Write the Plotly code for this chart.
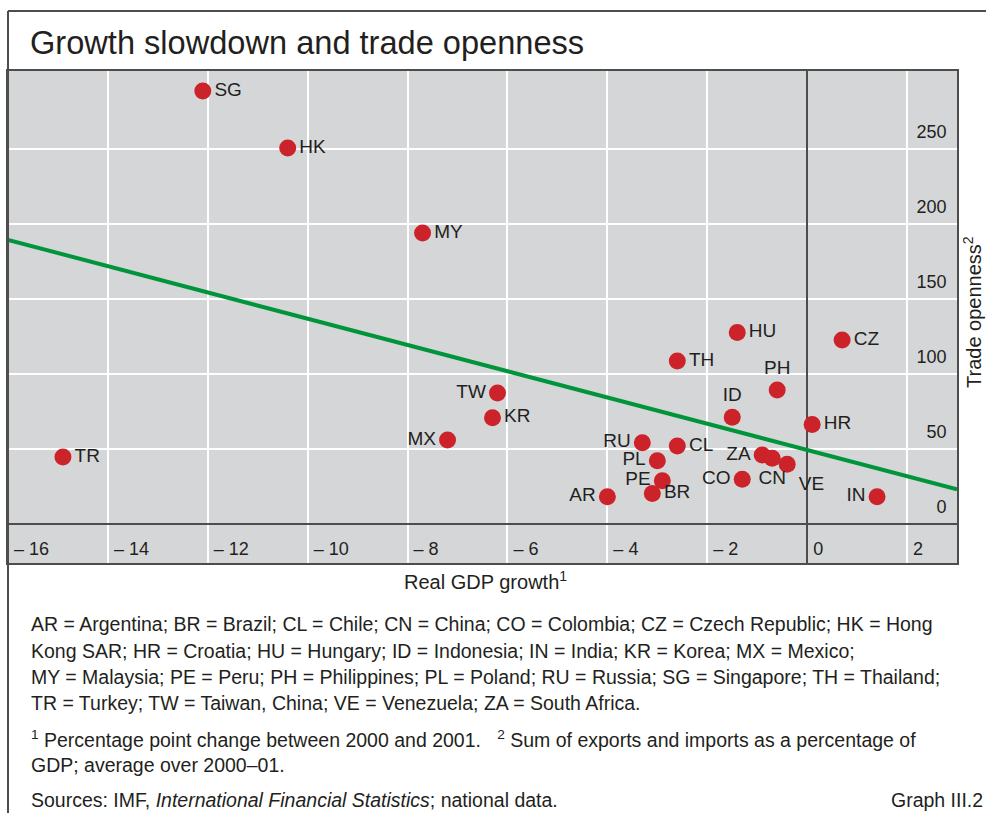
import plotly.graph_objects as go

# ---- data ----
codes = ["SG", "HK", "MY", "TR", "TW", "KR", "MX", "RU", "CL", "HU", "TH", "PH",
         "ID", "HR", "CZ", "IN", "PL", "PE", "BR", "AR", "CO", "ZA", "CN", "VE"]
gdp_growth = [-12.1, -10.4, -7.7, -14.9, -6.2, -6.3, -7.2, -3.3, -2.6, -1.4, -2.6, -0.6,
              -1.5, 0.1, 0.7, 1.4, -3.0, -2.9, -3.1, -4.0, -1.3, -0.9, -0.7, -0.4]
trade_openness = [288.7, 250.7, 194.0, 44.7, 87.3, 70.9, 56.0, 54.2, 52.0, 127.6, 108.7, 89.3,
                  71.1, 66.4, 122.7, 18.2, 42.2, 28.9, 20.4, 18.2, 29.8, 46.0, 43.8, 39.8]
label_pos = ["middle right", "middle right", "middle right", "middle right", "middle left",
             "middle right", "middle left", "middle left", "middle right", "middle right",
             "middle right", "top center", "top center", "middle right", "middle right",
             "middle left", "middle left", "middle left", "middle right", "middle left",
             "middle left", "middle left", "bottom center", "bottom right"]

trend_x = [-16, 3]
trend_y = [189.4, 23.1]

x_tickvals = [-16, -14, -12, -10, -8, -6, -4, -2, 0, 2]
x_ticktext = ["\u2013 16", "\u2013 14", "\u2013 12", "\u2013 10", "\u2013 8", "\u2013 6",
              "\u2013 4", "\u2013 2", "0", "2"]
y_tickvals = [0, 50, 100, 150, 200, 250]
y_ticktext = ["0", "50", "100", "150", "200", "250"]

# ---- styling ----
W, H = 986, 813
L, R, T, B = 8, 957, 71, 563
FONT = "Liberation Sans, Arial, Helvetica, sans-serif"
TXT = "#231f20"
FRAME = "#4d4d4d"
GREY = "#d5d6d8"
RED = "#cc2229"
GREEN = "#00953b"


def px(x):
    return (x - L) / (R - L)


def py(y):
    return (B - y) / (B - T)


fig = go.Figure()
fig.add_trace(go.Scatter(x=trend_x, y=trend_y, mode="lines",
                         line=dict(color=GREEN, width=4), hoverinfo="skip"))
fig.add_trace(go.Scatter(x=gdp_growth, y=trade_openness, mode="markers+text",
                         text=codes, textposition=label_pos,
                         textfont=dict(family=FONT, size=19, color=TXT),
                         marker=dict(size=17, color=RED, line=dict(width=0))))

fig.update_layout(
    width=W, height=H,
    margin=dict(l=L, r=W - R, t=T, b=H - B, pad=0, autoexpand=False),
    paper_bgcolor="white", plot_bgcolor=GREY,
    showlegend=False,
    font=dict(family=FONT, color=TXT),
)

fig.update_xaxes(
    range=[-16, 3], tickvals=x_tickvals, ticktext=x_ticktext,
    ticklabelposition="inside right", ticks="",
    ticklabelshift=5, ticklabelstandoff=2,
    tickfont=dict(size=18, color=TXT),
    showgrid=True, gridcolor="white", gridwidth=1.5,
    zeroline=True, zerolinecolor=FRAME, zerolinewidth=1.5,
    showline=True, linecolor=FRAME, linewidth=2, mirror=True,
    automargin=False,
)
fig.update_yaxes(
    range=[-26, 302], side="right", tickvals=y_tickvals, ticktext=y_ticktext,
    ticklabelposition="inside top", ticks="",
    ticklabelstandoff=10, ticklabelshift=-5,
    tickfont=dict(size=18, color=TXT),
    showgrid=True, gridcolor="white", gridwidth=1.5,
    zeroline=True, zerolinecolor=FRAME, zerolinewidth=2,
    showline=True, linecolor=FRAME, linewidth=2, mirror=True,
    automargin=False,
)

# axis titles
fig.add_annotation(text="Real GDP growth<sup>1</sup>", xref="paper", yref="paper",
                   x=px(486), y=py(580), xanchor="center", yanchor="middle", showarrow=False,
                   font=dict(size=20, color=TXT))
fig.add_annotation(text="Trade openness<sup>2</sup>", xref="paper", yref="paper",
                   x=px(972), y=py(312), xanchor="center", yanchor="middle", showarrow=False,
                   textangle=-90, font=dict(size=20, color=TXT))

# outer frame
fig.add_shape(type="line", xref="paper", yref="paper", x0=px(8), x1=px(990), y0=py(11), y1=py(11),
              line=dict(color=FRAME, width=2))
fig.add_shape(type="line", xref="paper", yref="paper", x0=px(8), x1=px(8), y0=py(11), y1=py(820),
              line=dict(color=FRAME, width=2))

# title
fig.add_annotation(text="Growth slowdown and trade openness", xref="paper", yref="paper",
                   x=px(28), y=py(42), xanchor="left", yanchor="middle", showarrow=False,
                   font=dict(size=32.6, color=TXT))

notes = [
    ("AR = Argentina; BR = Brazil; CL = Chile; CN = China; CO = Colombia; CZ = Czech Republic; HK = Hong", 624),
    ("Kong SAR; HR = Croatia; HU = Hungary; ID = Indonesia; IN = India; KR = Korea; MX = Mexico;", 651),
    ("MY = Malaysia; PE = Peru; PH = Philippines; PL = Poland; RU = Russia; SG = Singapore; TH = Thailand;", 677),
    ("TR = Turkey; TW = Taiwan, China; VE = Venezuela; ZA = South Africa.", 703),
    ("<sup>1</sup>\u00a0Percentage point change between 2000 and 2001.\u00a0\u00a0\u00a0<sup>2</sup>\u00a0Sum of exports and imports as a percentage of", 739),
    ("GDP; average over 2000\u201301.", 765),
    ("Sources: IMF, <i>International Financial Statistics</i>; national data.", 800),
]
for txt, yy in notes:
    fig.add_annotation(text=txt, xref="paper", yref="paper", x=px(29), y=py(yy),
                       xanchor="left", yanchor="middle", showarrow=False,
                       font=dict(size=19.5, color=TXT))
fig.add_annotation(text="Graph III.2", xref="paper", yref="paper", x=px(985), y=py(800),
                   xanchor="right", yanchor="middle", showarrow=False,
                   font=dict(size=19.5, color=TXT))

fig.write_html("out.html", config={"displayModeBar": False},
               post_script="document.body.style.margin='0';document.body.style.overflow='hidden';")
